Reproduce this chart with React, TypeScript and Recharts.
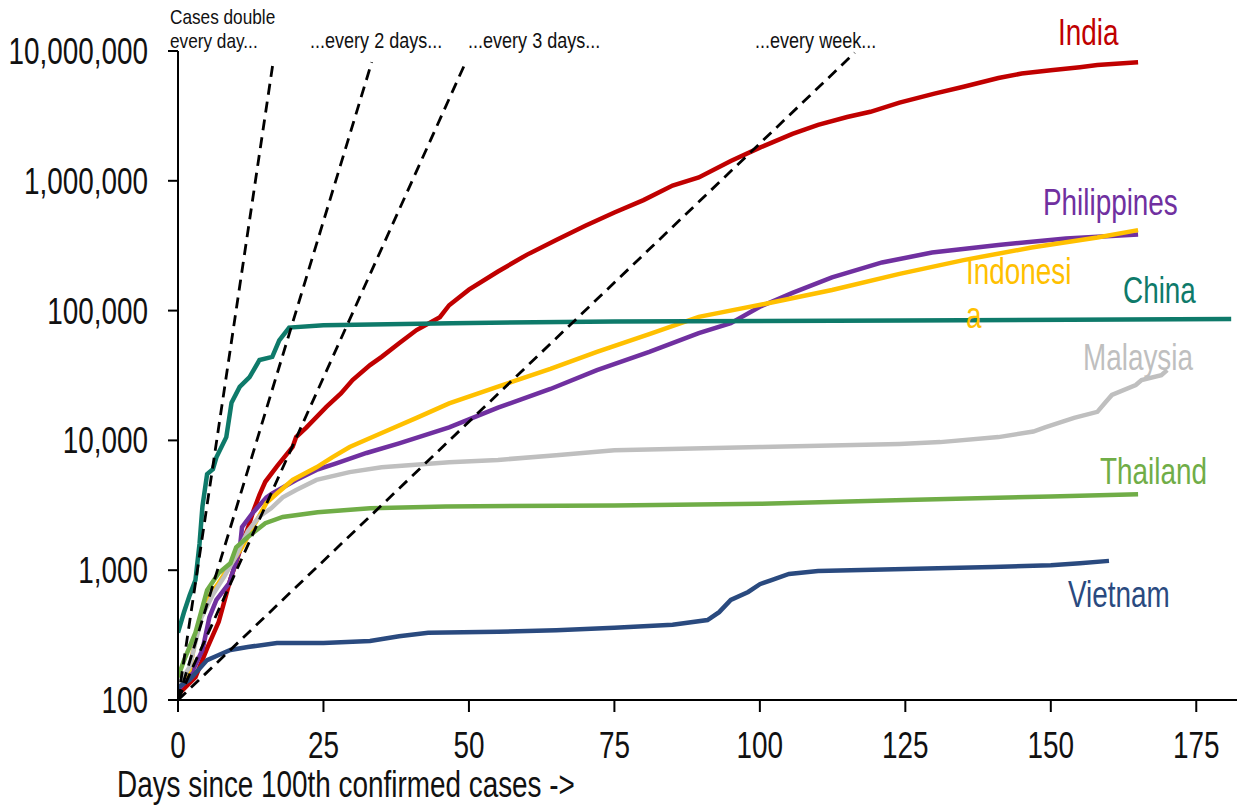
import React from 'react';
import { LineChart, Line, XAxis, YAxis } from 'recharts';

// [day, confirmed cases]
const india = [[0,110],[3,150],[5,250],[7,400],[9,850],[10,1150],[11,1600],[12,2100],[13,2900],[14,3800],[15,4800],[17,6300],[19.7,8900],[20.3,10600],[22,12500],[25.5,18100],[28,23000],[30,29200],[33,38000],[35,44000],[38,56000],[41,70800],[45,89000],[46.6,110000],[50,145000],[55,200000],[60,270000],[65,350000],[70,450000],[75,570000],[80,710000],[85,920000],[89.5,1060000],[95,1420000],[100,1800000],[105.6,2300000],[110,2700000],[115,3100000],[119,3400000],[124,4000000],[130,4700000],[135,5300000],[141,6200000],[145,6700000],[150,7100000],[155,7500000],[158,7800000],[165,8200000]];
const philippines = [[0,120],[2,150],[4.2,243],[5.4,435],[6.6,590],[8.8,795],[10.6,1430],[11,2150],[12.8,2750],[15.2,3640],[16.2,3900],[20.3,4960],[23.8,5920],[27.2,6650],[32.4,8000],[38,9500],[46.6,12600],[55,17900],[64,24900],[72,34800],[81,48000],[89.5,67000],[95,80000],[100,107000],[105.6,137000],[112.4,180000],[121,235000],[129.6,280000],[141,320000],[152.6,360000],[165,385000]];
const indonesia = [[0,130],[2,170],[3,300],[4,450],[5,600],[7,800],[9,1100],[11,1500],[12.3,1920],[15.2,3300],[17,3900],[19.7,4960],[23.8,6200],[26.5,7400],[29.5,8900],[35,11400],[41,14900],[46.6,19300],[55,26000],[64,35500],[72,48000],[81,66000],[89.5,89500],[101,113000],[112.4,144000],[124,192000],[135,245000],[146.7,306000],[158,366000],[165,417000]];
const china = [[0,330],[1,470],[2,640],[3,840],[3.7,1600],[4.2,3100],[5,5500],[6,6000],[6.6,7400],[8.3,10600],[9.2,19500],[10.6,25800],[12.3,30700],[14,41600],[16.2,44000],[17.4,59000],[19.1,74000],[25,77000],[47,80000],[75,82500],[125,84000],[181,86000]];
const malaysia = [[0,130],[2,180],[4,430],[6,650],[8,900],[10,1300],[12,2000],[14,2600],[16,3000],[18,3640],[20.3,4150],[23.8,4960],[29.5,5700],[35,6200],[46.6,6800],[55,7070],[65,7700],[75,8400],[100,8900],[124,9400],[131,9700],[141,10600],[147,11700],[149,12600],[154,14900],[158,16600],[159.4,19700],[160.5,22400],[164.6,26700],[165.6,29200],[169,31800],[170,34800]];
const thailand = [[0,150],[1,200],[3,330],[5,700],[7,950],[9,1130],[10,1500],[12,1800],[15,2300],[18,2570],[24,2800],[33,3000],[46,3100],[75,3150],[100,3250],[125,3480],[150,3700],[165,3850]];
const vietnam = [[0,125],[2,143],[5,203],[7,222],[9,243],[12,256],[17,275],[25,275],[33,285],[38,310],[43,330],[55,335],[65,345],[75,360],[85,380],[91,413],[93,475],[95,590],[98,680],[100,780],[102,840],[105,935],[110,985],[125,1020],[140,1060],[150,1090],[155,1130],[160,1180]];

// doubling-time guide lines: start and end points
const doubleEveryDay = [[0,100],[16.4,8500000]];
const doubleEvery2Days = [[0,100],[33.3,8200000]];
const doubleEvery3Days = [[0,100],[49.6,8500000]];
const doubleEveryWeek = [[0,100],[116.3,9700000]];

const xTicks = [0, 25, 50, 75, 100, 125, 150, 175];
const yTicks = [100, 1000, 10000, 100000, 1000000, 10000000];

const countries = [
  { name: 'India', points: india, color: '#C00000' },
  { name: 'Philippines', points: philippines, color: '#7030A0' },
  { name: 'Indonesia', points: indonesia, color: '#FFC000' },
  { name: 'China', points: china, color: '#0E7A6A' },
  { name: 'Malaysia', points: malaysia, color: '#BFBFBF' },
  { name: 'Thailand', points: thailand, color: '#70AD47' },
  { name: 'Vietnam', points: vietnam, color: '#2A4A7F' },
];
const guides = [doubleEveryDay, doubleEvery2Days, doubleEvery3Days, doubleEveryWeek];

const FONT = "'Liberation Sans', Arial, sans-serif";
// no Arial Narrow installed, so condense by hand (the original text is also a bit tall)
const SQUEEZE_X = 0.82;
const STRETCH_Y = 1.08;

const toRows = (pts: number[][]) => pts.map(([day, v]) => ({ day, v }));

function Narrow({ x, y, size = 34, fill = '#111', anchor = 'start', dy = 0, sy = STRETCH_Y, children }: any) {
  return (
    <text
      transform={`translate(${x},${y}) scale(${SQUEEZE_X},${sy})`}
      fontSize={size}
      fill={fill}
      textAnchor={anchor}
      dy={dy}
      fontFamily={FONT}
    >
      {children}
    </text>
  );
}

const XTick = (props: any) => (
  <Narrow x={props.x} y={props.y} anchor="middle" dy="0.71em">{props.payload.value}</Narrow>
);
const YTick = (props: any) => (
  <Narrow x={props.x} y={props.y} anchor="end" dy="0.355em">
    {Number(props.payload.value).toLocaleString('en-US')}
  </Narrow>
);

export default function App() {
  return (
    <div style={{ position: 'absolute', left: 0, top: 0, width: 1237, height: 807, background: '#fff' }}>
      <LineChart width={1237} height={807} margin={{ top: 51, right: 0, bottom: 0, left: 0 }}>
        <XAxis
          type="number"
          dataKey="day"
          domain={[0, 182]}
          ticks={xTicks}
          allowDataOverflow
          height={107}
          tickSize={12}
          tickMargin={20}
          axisLine={{ stroke: '#000', strokeWidth: 2 }}
          tickLine={{ stroke: '#000', strokeWidth: 2 }}
          tick={XTick}
        />
        <YAxis
          type="number"
          scale="log"
          domain={[100, 10000000]}
          ticks={yTicks}
          allowDataOverflow
          width={178}
          tickSize={10}
          tickMargin={20}
          axisLine={{ stroke: '#000', strokeWidth: 2 }}
          tickLine={{ stroke: '#000', strokeWidth: 2 }}
          tick={YTick}
        />
        {countries.map((c) => (
          <Line
            key={c.name}
            data={toRows(c.points)}
            dataKey="v"
            type="linear"
            stroke={c.color}
            strokeWidth={4.5}
            dot={false}
            isAnimationActive={false}
          />
        ))}
        {guides.map((g, i) => (
          <Line
            key={`guide-${i}`}
            data={toRows(g)}
            dataKey="v"
            type="linear"
            stroke="#000"
            strokeWidth={2.8}
            strokeDasharray="11 7"
            dot={false}
            isAnimationActive={false}
          />
        ))}
      </LineChart>
      <svg width={1237} height={807} style={{ position: 'absolute', left: 0, top: 0, pointerEvents: 'none' }}>
        <Narrow x={170} y={24} size={21} sy={1}>Cases double</Narrow>
        <Narrow x={170} y={48} size={21} sy={1}>every day...</Narrow>
        <Narrow x={310} y={48} size={22} sy={1}>...every 2 days...</Narrow>
        <Narrow x={468} y={48} size={22} sy={1}>...every 3 days...</Narrow>
        <Narrow x={755} y={48} size={22} sy={1}>...every week...</Narrow>
        <Narrow x={1058} y={45} fill="#C00000">India</Narrow>
        <Narrow x={1043} y={215} fill="#7030A0">Philippines</Narrow>
        <Narrow x={966} y={284} fill="#FFC000">Indonesi</Narrow>
        <Narrow x={966} y={328} fill="#FFC000">a</Narrow>
        <Narrow x={1123} y={303} fill="#0E7A6A">China</Narrow>
        <Narrow x={1083} y={370} fill="#BFBFBF">Malaysia</Narrow>
        <Narrow x={1100} y={484} fill="#70AD47">Thailand</Narrow>
        <Narrow x={1068} y={607} fill="#2A4A7F">Vietnam</Narrow>
        <Narrow x={117} y={797}>Days since 100th confirmed cases -&gt;</Narrow>
      </svg>
    </div>
  );
}
